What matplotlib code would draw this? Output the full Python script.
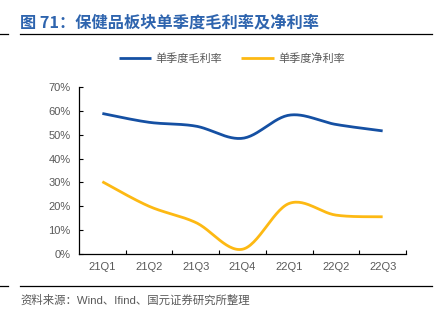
import numpy as np
import matplotlib
matplotlib.use('Agg')
import matplotlib.pyplot as plt
from matplotlib.lines import Line2D

plt.rcParams['font.family'] = ['Liberation Sans', 'Noto Sans CJK SC', 'DejaVu Sans']

quarters = ['21Q1', '21Q2', '21Q3', '21Q4', '22Q1', '22Q2', '22Q3']
gross_margin = [58.9, 55.2, 53.6, 48.5, 58.2, 54.3, 51.6]
net_margin = [30.3, 20.0, 13.2, 2.0, 21.2, 16.3, 15.6]

BLUE = '#1550A3'
YELLOW = '#FDB913'
GRAY = '#595959'


def smooth(xs, ys, n=30):
    # Excel-like smoothed line: Catmull-Rom segments as cubic Bezier
    xs = np.asarray(xs, float)
    ys = np.asarray(ys, float)
    px = np.r_[xs[0], xs, xs[-1]]
    py = np.r_[ys[0], ys, ys[-1]]
    outx, outy = [], []
    t = np.linspace(0, 1, n)
    for i in range(1, len(px) - 2):
        p0 = np.array([px[i], py[i]])
        p3 = np.array([px[i + 1], py[i + 1]])
        c1 = p0 + (np.array([px[i + 1], py[i + 1]]) - np.array([px[i - 1], py[i - 1]])) / 6
        c2 = p3 - (np.array([px[i + 2], py[i + 2]]) - np.array([px[i], py[i]])) / 6
        b = ((1 - t) ** 3)[:, None] * p0 + (3 * (1 - t) ** 2 * t)[:, None] * c1 \
            + (3 * (1 - t) * t ** 2)[:, None] * c2 + (t ** 3)[:, None] * p3
        outx.extend(b[:, 0])
        outy.extend(b[:, 1])
    return np.array(outx), np.array(outy)


fig = plt.figure(figsize=(4.39, 3.25), dpi=100, facecolor='white')

fig.text(20/439, 1-22/325, '图 71：保健品板块单季度毛利率及净利率', color='#2E64AE',
         fontsize=11.7, weight='bold', va='center', ha='left',
         family=['Noto Sans CJK SC', 'DejaVu Sans'])
for yy in (34, 286):
    fig.add_artist(Line2D([0, 8/439], [1-yy/325]*2, color='black', lw=0.9))
    fig.add_artist(Line2D([20/439, 432/439], [1-yy/325]*2, color='black', lw=0.9))

fig.text(20/439, 1-300/325, '资料来源：Wind、Ifind、国元证券研究所整理', color=GRAY,
         fontsize=8.2, va='center', ha='left')

ax = fig.add_axes((79/439, 1-254/325, 327/439, 167/325))
x = np.arange(len(quarters))
sx, sy = smooth(x, gross_margin)
ax.plot(sx, sy, color=BLUE, lw=2, label='单季度毛利率', solid_capstyle='butt')
sx, sy = smooth(x, net_margin)
ax.plot(sx, sy, color=YELLOW, lw=2, label='单季度净利率', solid_capstyle='butt')

ax.set_xlim(-0.5, len(quarters) - 0.5)
ax.set_ylim(0, 70)
ax.set_yticks(range(0, 71, 10))
ax.set_yticklabels([f'{v}%' for v in range(0, 71, 10)])
ax.set_xticks(x)
ax.set_xticklabels(quarters)
ax.set_xticks(np.arange(0.5, len(quarters)), minor=True)
ax.tick_params(axis='x', which='major', length=0, pad=6, labelsize=8, labelcolor=GRAY)
ax.tick_params(axis='x', which='minor', direction='in', length=3, width=0.8)
ax.tick_params(axis='y', direction='in', length=3, width=0.8, pad=6, labelsize=8, labelcolor=GRAY)
for s in ('top', 'right'):
    ax.spines[s].set_visible(False)
for s in ('left', 'bottom'):
    ax.spines[s].set_linewidth(0.9)

fig.legend(*ax.get_legend_handles_labels(), loc='center', bbox_to_anchor=(232/439, 1-59/325),
           ncol=2, frameon=False, labelcolor=GRAY, handlelength=2.9, handletextpad=0.4,
           columnspacing=1.7, prop={'family': ['Noto Sans CJK SC'], 'size': 8})

fig.savefig('out.png', dpi=100, facecolor='white')
